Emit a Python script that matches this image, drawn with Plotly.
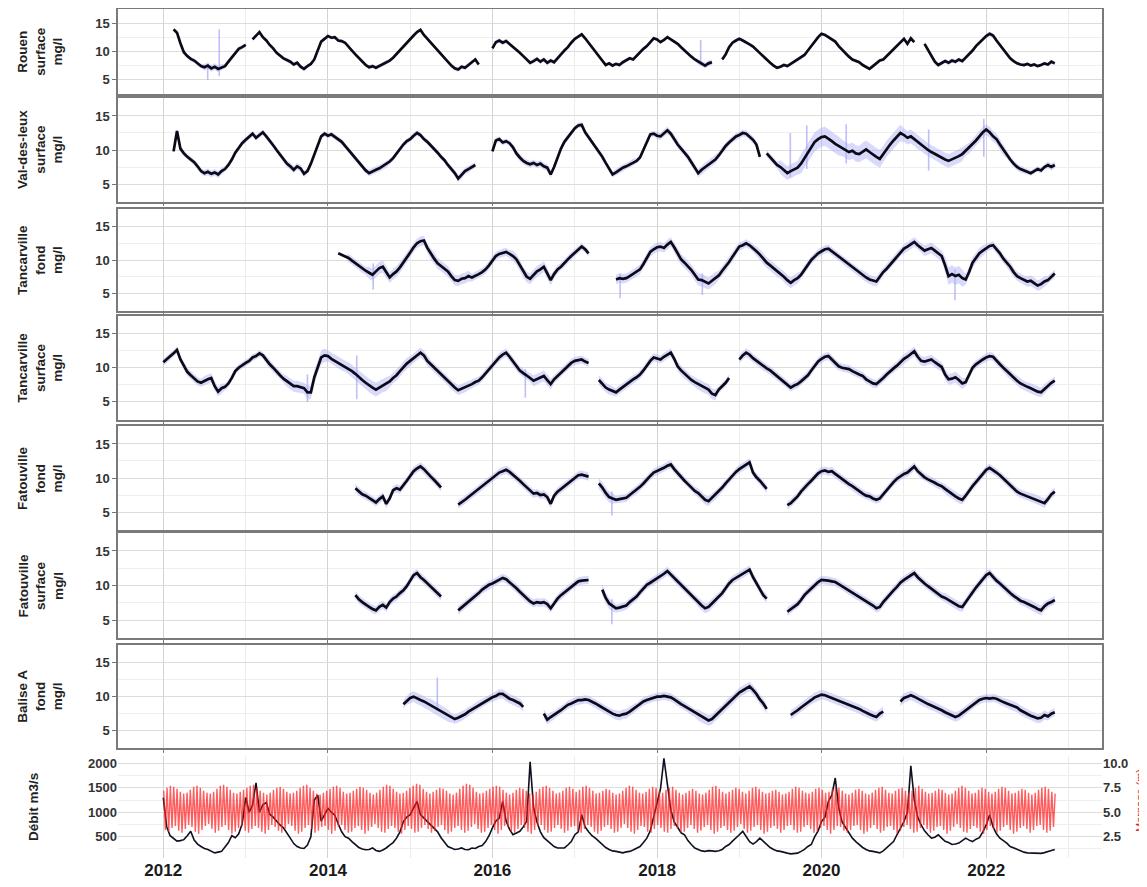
import plotly.graph_objects as go
from datetime import datetime, timedelta

N = None
YEARS = list(range(2012, 2023))  # each row = one year, 24 semi-monthly values

# ---------------- dissolved oxygen (mg/l), smoothed series -----------------
ROUEN = [
 [N,N,N,14.0,13.4,11.5,9.9,9.2,8.7,8.4,7.9,7.4,7.2,7.5,7.0,7.3,6.9,7.2,7.4,8.2,9.0,9.8,10.5,10.8],
 [11.2,N,12.2,12.8,13.5,12.6,12.0,11.2,10.6,9.8,9.3,8.8,8.5,8.2,7.7,8.0,7.3,6.9,7.4,7.8,8.6,10.2,11.8,12.3],
 [12.8,12.5,12.6,12.0,11.9,11.6,10.8,10.2,9.5,8.8,8.3,7.6,7.2,7.4,7.1,7.4,7.8,8.1,8.4,8.9,9.6,10.3,11.0,11.7],
 [12.3,12.9,13.5,13.9,13.0,12.3,11.5,10.8,10.2,9.5,8.9,8.2,7.5,7.0,6.8,7.3,7.1,7.6,8.1,8.6,7.7,N,N,N],
 [10.6,11.7,12.0,11.6,11.9,11.4,10.9,10.3,9.8,9.2,8.6,8.0,8.3,8.7,8.2,8.6,8.0,8.4,8.1,8.9,9.5,10.2,10.8,11.6],
 [12.3,12.7,13.1,12.4,11.6,10.8,10.0,9.2,8.4,7.6,7.9,7.5,7.8,7.6,8.1,8.4,8.8,8.6,9.3,9.9,10.5,11.0,11.8,12.4],
 [12.2,11.7,12.1,12.6,12.2,11.8,11.4,10.8,10.2,9.6,9.1,8.6,8.2,7.8,7.5,7.9,8.1,N,N,8.6,9.5,10.8,11.6,12.0],
 [12.3,12.0,11.7,11.3,10.9,10.3,9.7,9.1,8.5,8.0,7.5,7.1,7.3,7.6,7.4,7.8,8.2,8.5,8.9,9.4,10.2,11.0,11.9,12.6],
 [13.2,13.0,12.6,12.2,11.8,11.0,10.3,9.6,9.1,8.6,8.3,8.1,7.6,7.3,6.9,7.4,7.9,8.4,8.6,9.2,9.8,10.4,10.9,11.6],
 [12.3,11.4,12.4,11.7,N,N,11.4,10.3,9.1,8.2,7.6,8.0,8.3,8.0,8.4,8.2,8.6,8.3,8.9,9.6,10.2,11.0,11.6,12.3],
 [12.8,13.2,12.9,12.0,11.2,10.3,9.5,8.8,8.3,7.9,7.7,7.6,7.8,7.5,7.7,7.4,7.6,7.9,7.7,8.2,7.9,N,N,N],
]
VAL_DES_LEUX = [
 [N,N,N,9.8,12.8,10.2,9.5,9.0,8.6,8.2,7.6,6.9,6.6,6.8,6.5,6.7,6.4,6.9,7.2,7.8,8.6,9.6,10.3,11.0],
 [11.5,11.9,12.4,11.8,12.2,12.6,12.0,11.4,10.7,10.0,9.3,8.6,8.0,7.6,7.1,7.6,7.3,6.5,6.9,8.0,9.4,10.8,12.0,12.4],
 [12.1,12.3,11.9,11.6,11.2,10.6,10.0,9.4,8.8,8.2,7.6,7.0,6.6,6.9,7.1,7.3,7.6,7.9,8.3,8.8,9.5,10.2,10.8,11.3],
 [11.6,12.1,12.5,12.2,11.6,11.2,10.7,10.2,9.6,9.0,8.5,7.8,7.2,6.6,5.8,6.3,6.9,7.2,7.5,7.8,N,N,N,N],
 [9.8,11.4,11.6,11.1,11.3,11.0,10.4,9.5,8.9,8.4,8.1,7.9,8.1,7.8,8.0,7.6,7.4,6.4,7.5,8.9,10.2,11.2,11.9,12.6],
 [13.2,13.6,13.7,12.6,11.9,11.2,10.5,9.8,9.0,8.1,7.2,6.4,6.7,7.1,7.4,7.6,7.9,8.2,8.4,8.9,10.0,11.3,12.3,12.4],
 [12.1,12.0,12.5,12.9,12.4,11.6,10.8,10.2,9.6,9.0,8.2,7.4,6.6,7.1,7.5,7.9,8.3,8.6,9.2,10.0,10.6,11.1,11.6,12.0],
 [12.2,12.5,12.4,12.0,11.5,10.8,9.0,N,9.5,8.9,8.3,7.8,7.5,7.0,6.6,6.9,7.1,7.4,8.0,8.8,9.6,10.4,11.2,11.6],
 [11.9,12.0,11.7,11.3,10.9,10.6,10.3,10.0,9.7,9.9,9.5,9.4,9.8,10.1,9.7,9.3,9.0,8.7,9.4,10.2,10.8,11.4,12.0,12.5],
 [12.2,11.8,12.0,11.6,11.1,10.8,10.4,10.0,9.7,9.4,9.1,8.9,8.6,8.4,8.6,8.9,9.1,9.4,9.9,10.3,10.8,11.4,12.0,12.6],
 [13.0,12.6,12.0,11.6,10.8,10.0,9.3,8.6,8.0,7.5,7.2,7.0,6.8,6.6,6.9,7.2,7.0,7.5,7.8,7.5,7.8,N,N,N],
]
TANC_FOND = [
 [N]*24,
 [N]*24,
 [N,N,N,11.0,10.8,10.6,10.3,9.9,9.5,9.1,8.7,8.4,8.1,7.8,8.3,8.8,9.0,8.2,7.4,7.9,8.3,8.9,9.6,10.4],
 [11.1,11.9,12.5,12.8,12.9,11.8,10.9,10.2,9.5,9.1,8.7,8.3,7.6,7.0,6.9,7.2,7.3,7.6,7.4,7.6,7.9,8.2,8.6,9.2],
 [10.0,10.6,10.9,11.1,11.2,10.9,10.6,10.1,9.2,8.2,7.5,7.2,7.8,8.3,8.6,9.0,8.0,7.0,7.9,8.6,9.0,9.6,10.1,10.6],
 [11.1,11.6,12.0,11.6,11.0,N,N,N,N,N,N,N,7.1,7.3,7.2,7.3,7.6,7.9,8.2,8.6,9.4,10.3,11.2,11.6],
 [11.9,12.0,11.8,12.3,12.7,11.9,10.9,10.1,9.6,9.1,8.5,7.8,7.1,7.0,6.7,6.5,6.9,7.3,7.7,8.4,9.0,9.7,10.5,11.3],
 [12.0,12.2,12.5,12.2,11.8,11.3,10.8,10.2,9.6,9.2,8.8,8.3,8.0,7.5,7.0,6.6,7.0,7.3,7.8,8.6,9.3,10.0,10.5,11.0],
 [11.3,11.6,11.7,11.3,11.0,10.6,10.2,9.8,9.4,9.0,8.5,8.1,7.8,7.4,7.1,6.9,6.8,7.5,8.2,8.7,9.3,9.9,10.5,11.2],
 [11.7,12.0,12.3,12.7,12.2,11.8,11.4,11.6,11.8,11.4,11.0,10.6,9.2,7.6,7.9,7.6,7.8,7.3,7.1,8.2,9.6,10.4,11.0,11.4],
 [11.8,12.1,12.2,11.6,11.0,10.2,9.6,9.0,8.2,7.6,7.3,7.0,6.8,6.9,6.6,6.2,6.4,6.8,7.0,7.5,8.0,N,N,N],
]
TANC_SURF = [
 [10.8,11.2,11.6,12.1,12.6,11.2,10.3,9.4,8.9,8.5,8.0,7.8,8.1,8.3,8.5,7.3,6.5,7.0,7.2,7.7,8.5,9.5,10.0,10.4],
 [10.7,11.0,11.5,11.7,12.1,11.8,11.1,10.5,10.0,9.4,8.9,8.4,8.0,7.6,7.3,7.3,7.1,7.0,6.4,6.4,8.6,10.2,11.5,11.8],
 [11.7,11.3,11.0,10.7,10.4,10.2,9.9,9.5,9.1,8.6,8.2,7.8,7.4,7.1,6.8,7.1,7.4,7.6,8.0,8.5,8.9,9.5,10.1,10.6],
 [11.0,11.4,11.8,12.2,11.8,11.0,10.5,10.0,9.5,9.0,8.5,8.0,7.5,7.1,6.7,6.9,7.1,7.3,7.6,7.9,8.1,8.6,9.2,9.8],
 [10.4,11.0,11.5,11.9,12.2,11.6,10.9,10.2,9.6,9.2,8.9,8.5,8.1,8.3,8.6,8.8,8.2,7.6,8.3,8.8,9.3,9.8,10.3,10.7],
 [11.0,11.1,11.2,10.9,10.7,N,N,8.2,7.6,7.1,6.8,6.6,6.4,6.8,7.2,7.5,7.9,8.3,8.6,9.0,9.6,10.4,11.0,11.5],
 [11.4,11.2,11.6,11.9,12.2,11.3,10.2,9.6,9.1,8.6,8.2,7.9,7.6,7.3,7.0,6.8,6.2,6.0,6.8,7.3,7.8,8.5,N,N],
 [11.2,11.8,12.2,11.9,11.4,11.0,10.6,10.2,9.9,9.6,9.2,8.8,8.4,8.0,7.6,7.1,7.4,7.6,8.0,8.5,8.9,9.6,10.3,10.9],
 [11.3,11.6,11.7,11.2,10.6,10.2,10.0,9.9,9.8,9.5,9.2,9.0,8.8,8.3,8.0,7.7,7.6,8.0,8.5,9.0,9.5,9.9,10.3,10.8],
 [11.3,11.6,12.0,12.4,11.6,11.0,10.9,11.1,11.2,10.8,10.4,10.1,9.0,8.3,8.4,8.6,8.2,7.7,7.9,9.0,10.0,10.5,10.9,11.2],
 [11.5,11.7,11.6,11.0,10.5,10.0,9.5,9.0,8.5,8.1,7.7,7.4,7.2,7.0,6.7,6.5,6.4,6.9,7.4,7.8,8.1,N,N,N],
]
FATOU_FOND = [
 [N]*24,
 [N]*24,
 [N,N,N,N,N,N,N,N,8.5,8.0,7.6,7.4,7.1,6.8,6.4,6.9,7.3,6.2,7.0,8.2,8.5,8.3,8.9,9.6],
 [10.3,11.0,11.4,11.7,11.3,10.7,10.2,9.7,9.2,8.6,N,N,N,N,6.1,6.4,6.8,7.2,7.6,8.0,8.3,8.7,9.1,9.5],
 [10.0,10.4,10.8,11.0,11.2,10.9,10.5,10.0,9.6,9.1,8.6,8.1,7.7,7.8,7.5,7.6,7.2,6.2,7.4,8.0,8.4,8.8,9.2,9.6],
 [10.0,10.4,10.5,10.3,10.2,N,N,9.2,8.6,7.8,7.2,7.0,6.8,6.9,7.0,7.1,7.5,7.9,8.2,8.7,9.2,9.8,10.3,10.8],
 [11.0,11.3,11.5,11.8,12.0,11.3,10.7,10.1,9.6,9.1,8.6,8.1,7.8,7.3,6.8,6.6,7.1,7.5,8.0,8.6,9.2,9.8,10.4,10.9],
 [11.3,11.6,12.0,12.3,10.8,10.1,9.6,9.0,8.4,N,N,N,N,N,6.0,6.3,6.8,7.3,8.0,8.6,9.1,9.6,10.2,10.7],
 [11.0,11.1,10.9,11.0,10.6,10.2,9.8,9.5,9.1,8.8,8.4,8.0,7.7,7.4,7.3,7.0,6.8,7.0,7.6,8.3,8.9,9.4,9.9,10.3],
 [10.6,10.8,11.2,11.7,11.0,10.5,10.1,9.8,9.6,9.3,9.0,8.8,8.4,8.0,7.6,7.3,7.0,6.8,7.4,8.2,8.8,9.4,10.0,10.6],
 [11.2,11.5,11.2,10.8,10.4,9.9,9.4,8.9,8.5,8.0,7.7,7.5,7.3,7.1,7.0,6.8,6.6,6.3,6.9,7.6,8.0,N,N,N],
]
FATOU_SURF = [
 [N]*24,
 [N]*24,
 [N,N,N,N,N,N,N,N,8.6,8.0,7.6,7.2,6.9,6.6,6.4,6.9,7.2,6.8,7.6,8.1,8.4,8.9,9.3,9.9],
 [10.8,11.5,11.8,11.2,10.8,10.3,9.8,9.4,8.9,8.4,N,N,N,N,6.4,6.8,7.2,7.6,8.1,8.5,8.9,9.4,9.8,10.1],
 [10.3,10.6,10.9,11.1,10.9,10.5,10.1,9.6,9.1,8.6,8.1,7.7,7.4,7.6,7.5,7.6,7.3,6.7,7.4,8.1,8.6,9.0,9.4,9.9],
 [10.3,10.6,10.7,10.8,10.8,N,N,N,9.4,8.2,7.4,7.0,6.7,6.8,6.9,7.1,7.6,8.0,8.4,9.0,9.6,10.1,10.4,10.7],
 [11.0,11.3,11.7,12.1,11.6,11.0,10.6,10.1,9.6,9.1,8.6,8.1,7.6,7.1,6.7,6.9,7.4,7.9,8.5,8.9,9.6,10.3,10.8,11.1],
 [11.3,11.7,12.0,12.3,11.2,10.3,9.4,8.6,8.1,N,N,N,N,N,6.2,6.6,7.0,7.3,7.9,8.6,9.1,9.6,10.1,10.5],
 [10.8,10.8,10.7,10.6,10.5,10.2,9.9,9.6,9.3,8.9,8.6,8.3,8.1,7.8,7.4,7.1,6.7,6.9,7.6,8.2,8.8,9.3,9.8,10.4],
 [10.8,11.1,11.5,11.8,11.2,10.7,10.3,9.9,9.5,9.1,8.7,8.4,8.2,7.9,7.6,7.3,7.0,6.9,7.6,8.4,9.1,9.7,10.3,10.9],
 [11.5,11.8,11.2,10.7,10.3,9.8,9.3,8.9,8.5,8.1,7.8,7.6,7.4,7.2,6.9,6.6,6.4,7.0,7.4,7.6,7.9,N,N,N],
]
BALISE_A = [
 [N]*24,
 [N]*24,
 [N]*22 + [8.9,9.4],
 [9.8,10.0,9.7,9.5,9.3,9.0,8.8,8.5,8.2,7.8,7.5,7.2,6.9,6.7,6.9,7.1,7.4,7.8,8.1,8.5,8.8,9.1,9.4,9.7],
 [9.9,10.1,10.4,10.4,10.0,9.7,9.5,9.2,9.0,8.5,N,N,N,N,N,7.5,6.6,7.0,7.3,7.7,8.0,8.4,8.8,9.0],
 [9.3,9.5,9.5,9.6,9.5,9.3,9.0,8.7,8.4,8.0,7.7,7.5,7.3,7.2,7.4,7.5,7.8,8.2,8.5,8.9,9.3,9.5,9.7,9.9],
 [10.0,10.0,10.1,10.0,9.9,9.6,9.2,8.9,8.6,8.3,7.9,7.6,7.3,7.0,6.7,6.5,6.7,7.2,7.7,8.1,8.7,9.2,9.6,10.1],
 [10.6,10.9,11.2,11.5,11.0,10.4,9.6,9.0,8.2,N,N,N,N,N,N,7.3,7.6,8.0,8.4,8.8,9.2,9.6,9.9,10.1],
 [10.3,10.2,10.0,9.9,9.7,9.5,9.3,9.0,8.8,8.6,8.4,8.2,7.9,7.6,7.4,7.2,7.0,7.5,7.8,N,N,N,N,9.3],
 [9.8,10.0,10.2,10.0,9.7,9.4,9.2,8.9,8.7,8.5,8.3,8.0,7.7,7.5,7.2,7.0,7.2,7.6,8.0,8.4,8.8,9.2,9.5,9.7],
 [9.8,9.7,9.8,9.7,9.4,9.2,9.0,8.8,8.6,8.4,8.0,7.7,7.4,7.2,7.0,6.8,6.9,7.3,7.1,7.5,7.7,N,N,N],
]

# raw-data scatter half-width around the smoothed line (mg/l), 4 quarters per year
SPREAD_ROUEN = [[.4,.4,.6,.4],[.3,.3,.4,.3],[.3,.3,.4,.3],[.3,.3,.4,.3],[.4,.3,.4,.3],[.3,.3,.3,.3],
                [.3,.3,.5,.3],[.3,.3,.3,.3],[.3,.3,.3,.3],[.3,.4,.4,.3],[.4,.3,.3,.3]]
SPREAD_VAL = [[.4,.4,.5,.4],[.4,.4,.5,.4],[.4,.4,.5,.4],[.4,.4,.5,.4],[.4,.5,.5,.4],[.4,.4,.5,.4],
              [.5,.5,.6,.5],[.5,.5,1.0,1.4],[1.4,1.2,1.3,1.2],[1.0,1.0,1.0,.8],[.8,.5,.4,.5]]
SPREAD_TF = [[0,0,0,0],[0,0,0,0],[0,.6,.9,.8],[.7,.8,.8,.6],[.6,.8,.8,.6],[.5,0,.7,.7],
             [.7,.8,.9,.7],[.6,.8,.8,.6],[.6,.6,.7,.6],[.7,.8,1.3,.8],[.6,.7,.8,.6]]
SPREAD_TS = [[.5,.6,.7,.5],[.5,.6,.8,1.0],[.8,.9,1.0,.8],[.7,.6,.7,.6],[.6,.6,.8,.6],[.6,.7,.6,.6],
             [.6,.7,.8,.5],[.6,.6,.6,.6],[.6,.6,.6,.6],[.7,.7,.8,.6],[.6,.7,.7,.6]]
SPREAD_FF = [[0,0,0,0],[0,0,0,0],[0,.6,.6,.6],[.6,.6,.6,.6],[.6,.6,.6,.6],[.6,.8,.6,.6],
             [.6,.6,.7,.6],[.6,.6,.6,.6],[.6,.6,.6,.6],[.6,.6,.7,.6],[.6,.6,.7,.6]]
SPREAD_FS = [[0,0,0,0],[0,0,0,0],[0,.6,.6,.6],[.6,.6,.6,.6],[.6,.6,.6,.6],[.6,.8,.6,.6],
             [.6,.6,.7,.6],[.6,.6,.6,.6],[.6,.6,.6,.6],[.6,.6,.7,.6],[.6,.6,.7,.6]]
SPREAD_BA = [[0,0,0,0],[0,0,0,0],[0,0,0,.6],[.8,.9,.7,.6],[.7,.7,.7,.6],[.6,.6,.7,.6],
             [.6,.6,.8,.7],[.7,.7,.7,.7],[.7,.7,.7,.7],[.7,.7,.7,.6],[.6,.7,.7,.6]]

# isolated raw-data excursions: (decimal year, low, high)
SPIKES_ROUEN = [(2012.54, 4.9, 7.6), (2012.68, 5.6, 14.0), (2018.53, 7.6, 12.1)]
SPIKES_VAL = [(2019.62, 6.0, 12.5), (2019.82, 7.2, 13.6), (2020.30, 8.0, 13.8), (2021.30, 7.0, 13.0), (2021.97, 9.0, 14.6)]
SPIKES_TF = [(2014.55, 5.6, 9.5), (2017.55, 4.3, 8.0), (2018.55, 4.8, 8.0), (2021.62, 4.0, 8.6)]
SPIKES_TS = [(2013.75, 5.0, 9.0), (2014.35, 5.4, 11.8), (2016.40, 5.6, 9.8)]
SPIKES_FF = [(2017.45, 4.5, 8.0)]
SPIKES_FS = [(2017.45, 4.4, 8.0)]
SPIKES_BA = [(2015.33, 8.0, 12.8)]

# ---------------- river flow (m3/s), semi-monthly -----------------
DEBIT = [
 [1300,700,520,470,410,420,440,520,610,430,350,300,260,240,200,170,185,200,290,380,520,480,560,760],
 [1300,1000,1150,1600,1000,1150,1200,960,900,810,740,680,560,470,360,300,270,260,330,500,1250,1350,820,950],
 [1080,1000,940,760,600,500,470,400,330,280,250,235,240,270,220,200,230,270,330,380,470,600,810,900],
 [950,1100,1220,950,880,800,740,650,600,480,400,300,270,240,250,270,240,235,270,260,300,320,400,520],
 [680,820,880,1220,820,650,540,580,610,700,820,2030,1100,800,600,480,420,360,300,270,265,270,330,400],
 [540,600,950,700,600,520,470,400,330,280,240,210,200,180,170,190,200,230,270,300,380,470,620,900],
 [1150,1480,2100,1600,1050,800,680,580,540,420,340,270,240,210,200,215,210,200,215,240,300,340,410,470],
 [540,610,500,400,350,400,470,400,330,280,240,210,200,175,165,150,150,165,200,240,300,340,500,620],
 [810,900,1220,1350,1700,1100,800,680,560,470,400,340,280,240,210,200,185,170,210,270,330,400,540,680],
 [810,1000,1950,1250,900,740,620,540,470,490,540,470,405,380,340,350,370,420,470,430,400,450,480,600],
 [740,950,700,560,470,420,370,300,270,230,200,185,170,165,160,150,160,175,190,220,240],
]

# ---------------- tidal range (m): successive spring / neap values -----------------
TIDE_SPRING = [
 7.2,7.5,7.7,7.6,7.4,7.1,6.9,7.0,7.3,7.6,7.7,7.5,7.2,7.0,6.9,7.1,7.4,7.7,7.8,7.6,7.3,7.0,6.9,7.1,7.3,
 7.5,7.7,7.8,7.5,7.2,7.0,6.8,7.0,7.3,7.5,7.6,7.4,7.1,6.9,7.0,7.2,7.5,7.7,7.8,7.5,7.2,6.9,6.8,7.0,7.2,
 7.4,7.6,7.7,7.5,7.1,6.9,7.0,7.2,7.4,7.6,7.5,7.3,7.0,6.8,7.0,7.3,7.6,7.8,7.7,7.4,7.1,6.9,7.0,7.2,7.5,
 7.7,7.9,7.8,7.4,7.1,6.9,7.1,7.3,7.5,7.4,7.2,6.9,6.8,7.0,7.4,7.7,7.9,7.8,7.5,7.1,6.9,7.0,7.2,7.4,7.6,
 7.7,7.6,7.3,7.0,6.8,7.0,7.3,7.5,7.4,7.2,6.9,6.8,7.1,7.4,7.6,7.7,7.5,7.2,6.9,7.0,7.2,7.5,7.6,7.4,7.1,
 7.3,7.6,7.7,7.5,7.2,6.9,7.0,7.2,7.4,7.3,7.0,6.8,6.9,7.2,7.5,7.7,7.6,7.3,7.0,6.9,7.1,7.4,7.6,7.5,7.2,
 7.0,7.3,7.5,7.6,7.3,7.0,6.8,7.0,7.2,7.4,7.2,6.9,6.8,7.0,7.3,7.6,7.7,7.4,7.1,6.9,7.1,7.3,7.5,7.4,7.1,
 6.9,7.2,7.5,7.6,7.4,7.1,6.9,7.0,7.2,7.3,7.1,6.8,6.9,7.1,7.4,7.6,7.5,7.2,7.0,6.9,7.1,7.4,7.5,7.3,7.0,
 7.1,7.4,7.6,7.5,7.2,6.9,6.8,7.0,7.3,7.4,7.2,6.9,6.8,7.0,7.3,7.5,7.6,7.3,7.0,6.9,7.2,7.4,7.5,7.2,7.0,
 7.2,7.5,7.7,7.4,7.1,6.9,7.0,7.2,7.4,7.3,7.0,6.8,6.9,7.2,7.5,7.7,7.5,7.2,6.9,7.0,7.3,7.5,7.4,7.1,6.9,
 7.1,7.4,7.6,7.5,7.2,6.9,7.0,7.2,7.4,7.3,7.0,6.8,7.0,7.3,7.5,7.6,7.4,7.1,6.9,7.1,7.3,7.4,
]
TIDE_NEAP = [
 3.2,3.0,3.4,3.6,3.1,2.9,3.3,3.7,3.5,3.0,2.8,3.2,3.6,3.8,3.3,2.9,3.1,3.5,3.7,3.2,2.8,3.0,3.4,3.6,3.1,
 2.9,3.3,3.6,3.4,3.0,2.8,3.2,3.7,3.5,3.1,2.9,3.3,3.8,3.6,3.1,2.8,3.0,3.4,3.7,3.3,2.9,3.1,3.5,3.6,3.2,
 2.8,3.1,3.5,3.7,3.2,2.9,3.0,3.4,3.6,3.2,2.8,3.1,3.5,3.8,3.4,3.0,2.9,3.3,3.6,3.4,3.0,2.8,3.2,3.6,3.3,
 2.9,3.0,3.4,3.7,3.3,2.9,3.1,3.5,3.7,3.2,2.8,3.0,3.4,3.6,3.2,2.9,3.1,3.5,3.8,3.3,2.9,3.0,3.4,3.7,3.2,
 2.8,3.2,3.6,3.5,3.0,2.9,3.3,3.7,3.4,3.0,2.8,3.2,3.6,3.7,3.2,2.9,3.0,3.4,3.7,3.3,2.9,3.1,3.5,3.6,3.1,
 2.9,3.3,3.7,3.5,3.0,2.8,3.1,3.5,3.7,3.3,2.9,3.0,3.4,3.8,3.4,3.0,2.8,3.2,3.6,3.5,3.0,2.9,3.3,3.7,3.4,
 3.0,2.9,3.3,3.6,3.4,2.9,3.0,3.4,3.7,3.3,2.9,3.1,3.5,3.7,3.2,2.8,3.0,3.4,3.6,3.2,2.9,3.1,3.5,3.8,3.3,
 2.9,3.1,3.5,3.7,3.2,2.8,3.0,3.4,3.6,3.3,2.9,3.2,3.6,3.7,3.2,2.9,3.0,3.5,3.7,3.3,2.9,3.0,3.4,3.6,3.2,
 2.8,3.2,3.6,3.5,3.1,2.9,3.2,3.6,3.7,3.2,2.8,3.0,3.4,3.7,3.3,2.9,3.1,3.5,3.6,3.2,2.8,3.1,3.5,3.7,3.3,
 2.9,3.0,3.4,3.7,3.3,2.9,3.1,3.5,3.6,3.2,2.8,3.1,3.5,3.8,3.4,3.0,2.9,3.3,3.6,3.4,3.0,2.8,3.2,3.6,3.3,
 2.9,3.1,3.5,3.7,3.2,2.8,3.0,3.4,3.6,3.3,2.9,3.2,3.6,3.7,3.2,2.9,3.1,3.5,3.7,3.3,2.9,3.0,
]
TIDE_START = datetime(2012, 1, 3)
TIDE_END = datetime(2022, 11, 10)
SPRING_NEAP_DAYS = 14.765

PANELS = [
 ("Rouen<br>surface<br>mg/l", ROUEN, SPREAD_ROUEN, SPIKES_ROUEN),
 ("Val-des-leux<br>surface<br>mg/l", VAL_DES_LEUX, SPREAD_VAL, SPIKES_VAL),
 ("Tancarville<br>fond<br>mg/l", TANC_FOND, SPREAD_TF, SPIKES_TF),
 ("Tancarville<br>surface<br>mg/l", TANC_SURF, SPREAD_TS, SPIKES_TS),
 ("Fatouville<br>fond<br>mg/l", FATOU_FOND, SPREAD_FF, SPIKES_FF),
 ("Fatouville<br>surface<br>mg/l", FATOU_SURF, SPREAD_FS, SPIKES_FS),
 ("Balise A<br>fond<br>mg/l", BALISE_A, SPREAD_BA, SPIKES_BA),
]

# --------------------------------------------------------------------------
# the page body adds an 8px offset; layout below is expressed in page pixels
OFF = 8
W, H = 1147 - OFF, 887 - OFF
PLOT_L, PLOT_R, PLOT_T, PLOT_B = 118, 1102, 9, 858      # page pixels
ML, MR, MT, MB = PLOT_L - OFF, W - (PLOT_R - OFF), PLOT_T - OFF, H - (PLOT_B - OFF)
PW, PH = PLOT_R - PLOT_L, PLOT_B - PLOT_T


def ydom(top_px, bot_px):
    return [(PLOT_B - bot_px) / PH, (PLOT_B - top_px) / PH]


def px_x(x):
    return (x - PLOT_L) / PW


def px_y(y):
    return (PLOT_B - y) / PH


DOMAINS = [ydom(9.3, 94), ydom(98.3, 201.7), ydom(209, 311), ydom(315.7, 419.7),
           ydom(426.3, 529.7), ydom(533, 638), ydom(645, 748.3), ydom(756, 858)]


def dec2date(y):
    yr = int(y)
    return datetime(yr, 1, 1) + timedelta(days=(y - yr) * 365.25)


def expand(rows):
    pts = []
    for yr, row in zip(YEARS, rows):
        row = (list(row) + [None] * 24)[:24]
        for i, v in enumerate(row):
            pts.append((yr, i, datetime(yr, 1, 1) + timedelta(days=i * 365.25 / 24), v))
    return pts


FONT = "Liberation Sans, Arial, sans-serif"
fig = go.Figure()

for k, (title, rows, spread, spikes) in enumerate(PANELS, start=1):
    xa, ya = ("x" if k == 1 else f"x{k}"), ("y" if k == 1 else f"y{k}")
    pts = expand(rows)
    segs, cur = [], []
    for yr, i, d, v in pts:
        if v is None:
            if cur:
                segs.append(cur)
                cur = []
        else:
            s = spread[yr - 2012][i // 6]
            cur.append((d, v - s, v + s))
    if cur:
        segs.append(cur)
    for seg in segs:
        bx = [p[0] for p in seg] + [p[0] for p in seg[::-1]]
        by = [p[2] for p in seg] + [p[1] for p in seg[::-1]]
        fig.add_trace(go.Scatter(x=bx, y=by, xaxis=xa, yaxis=ya, mode="lines", fill="toself",
                                 fillcolor="rgba(170,170,248,0.45)", line=dict(width=0),
                                 hoverinfo="skip", showlegend=False))
    sx, sy = [], []
    for y0, lo, hi in spikes:
        d = dec2date(y0)
        sx += [d, d, None]
        sy += [lo, hi, None]
    fig.add_trace(go.Scatter(x=sx, y=sy, xaxis=xa, yaxis=ya, mode="lines",
                             line=dict(color="rgba(170,170,248,0.75)", width=1.6),
                             hoverinfo="skip", showlegend=False))
    fig.add_trace(go.Scatter(x=[p[2] for p in pts], y=[p[3] for p in pts], xaxis=xa, yaxis=ya,
                             mode="lines", connectgaps=False,
                             line=dict(color="#0b0b18", width=2.7), showlegend=False))

# flow + tidal range panel
dp = expand(DEBIT)
fig.add_trace(go.Scatter(x=[p[2] for p in dp], y=[p[3] for p in dp], xaxis="x8", yaxis="y8",
                         mode="lines", line=dict(color="#101020", width=1.6), showlegend=False))
tide = []
for j, v in enumerate(TIDE_SPRING):
    tide.append((TIDE_START + timedelta(days=j * SPRING_NEAP_DAYS), v))
for j, v in enumerate(TIDE_NEAP):
    tide.append((TIDE_START + timedelta(days=SPRING_NEAP_DAYS / 2 + j * SPRING_NEAP_DAYS), v))
tide = sorted(t for t in tide if t[0] <= TIDE_END)
fig.add_trace(go.Scatter(x=[t[0] for t in tide], y=[t[1] for t in tide], xaxis="x8", yaxis="y9",
                         mode="lines", line=dict(color="rgba(255,30,30,0.72)", width=1.4),
                         showlegend=False))

XR = ["2011-06-14", "2023-05-30"]
tickfont = dict(family=FONT, size=13, color="#333333", weight="bold")
layout = dict(width=W, height=H, margin=dict(l=ML, r=MR, t=MT, b=MB, autoexpand=False),
              paper_bgcolor="white", plot_bgcolor="white", showlegend=False)

for k in range(1, 9):
    xk = "xaxis" if k == 1 else f"xaxis{k}"
    yk = "yaxis" if k == 1 else f"yaxis{k}"
    framed = k <= 7
    layout[xk] = dict(domain=[0, 1], anchor=("y" if k == 1 else f"y{k}"), type="date", range=XR,
                      tick0="2012-01-01", dtick="M24", showticklabels=(k == 8),
                      tickformat="%Y", tickfont=dict(family=FONT, size=17, color="#1a1a1a", weight="bold"),
                      showgrid=True, gridcolor="#d3d3d3", gridwidth=1,
                      minor=dict(dtick="M12", tick0="2012-01-01", showgrid=True, gridcolor="#ececec"),
                      ticks=("outside" if framed else ""), ticklen=3, tickcolor="#777777",
                      showline=framed, mirror=framed, linecolor="#7a7a7a", linewidth=1.5,
                      zeroline=False)
    if k > 1:
        layout[xk]["matches"] = "x"
    if framed:
        layout[yk] = dict(domain=DOMAINS[k - 1], anchor=("x" if k == 1 else f"x{k}"),
                          range=[2.4, 17.6], tickvals=[5, 10, 15], tickfont=tickfont,
                          showgrid=True, gridcolor="#dcdcdc",
                          minor=dict(tick0=0, dtick=2.5, showgrid=True, gridcolor="#efefef"),
                          ticks="outside", ticklen=4, tickcolor="#777777",
                          showline=True, mirror=True, linecolor="#7a7a7a", linewidth=1.5,
                          zeroline=False)
    else:
        layout[yk] = dict(domain=DOMAINS[7], anchor="x8", range=[65, 2149],
                          tickvals=[500, 1000, 1500, 2000], tickfont=tickfont,
                          showgrid=True, gridcolor="#dcdcdc",
                          minor=dict(tick0=0, dtick=250, showgrid=True, gridcolor="#efefef"),
                          ticks="", showline=False, zeroline=False)
layout["yaxis9"] = dict(overlaying="y8", side="right", anchor="x8", range=[0.325, 10.745],
                        tickvals=[2.5, 5, 7.5, 10], ticktext=["2.5", "5.0", "7.5", "10.0"],
                        tickfont=tickfont, showgrid=False, zeroline=False, ticks="", showline=False)

ann = []
tfont = dict(family=FONT, size=13.5, color="#222222", weight="bold")
for k, (title, *_r) in enumerate(PANELS):
    d = DOMAINS[k]
    ann.append(dict(text=title, x=px_x(40), y=(d[0] + d[1]) / 2, xref="paper", yref="paper",
                    showarrow=False, textangle=-90, xanchor="center", yanchor="middle", font=tfont))
ann.append(dict(text="Débit m3/s", x=px_x(33), y=px_y(807), xref="paper", yref="paper",
                showarrow=False, textangle=-90, xanchor="center", yanchor="middle", font=tfont))
ann.append(dict(text="Marnage (m)", x=px_x(1140), y=px_y(801), xref="paper", yref="paper",
                showarrow=False, textangle=-90, xanchor="center", yanchor="middle",
                font=dict(family=FONT, size=11, color="#e02020")))
layout["annotations"] = ann

fig.update_layout(**layout)
fig.write_html("out.html")
